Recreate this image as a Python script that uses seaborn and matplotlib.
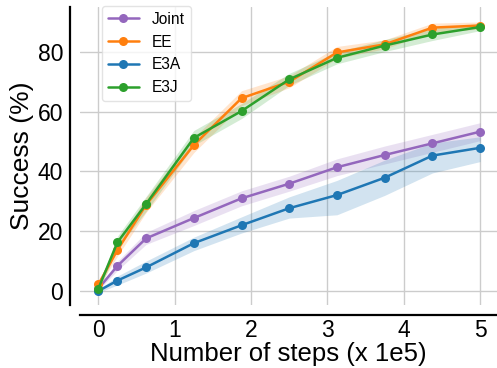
import matplotlib
matplotlib.use("Agg")
import matplotlib.pyplot as plt
import seaborn as sns
import pandas as pd

steps = [0, 0.25, 0.625, 1.25, 1.875, 2.5, 3.125, 3.75, 4.375, 5]
series_names = ["Joint", "EE", "E3A", "E3J"]

joint_mean = [0.8, 8.4, 17.6, 24.4, 31.0, 35.9, 41.4, 45.5, 49.4, 53.3]
joint_lo = [0.3, 6.9, 15.6, 21.9, 28.5, 33.4, 38.6, 42.5, 46.4, 50.3]
joint_hi = [1.3, 9.9, 19.6, 26.9, 33.5, 38.4, 44.2, 48.5, 52.4, 56.3]

ee_mean = [2.2, 13.7, 28.8, 48.8, 64.5, 70.0, 79.8, 82.5, 88.1, 88.8]
ee_lo = [1.2, 11.7, 26.3, 46.3, 62.0, 68.0, 77.8, 81.0, 86.6, 87.6]
ee_hi = [3.2, 15.7, 31.3, 51.3, 67.0, 72.0, 81.8, 84.0, 89.6, 90.0]

e3a_mean = [0.0, 3.5, 7.9, 16.0, 22.0, 27.7, 32.1, 37.9, 45.3, 47.9]
e3a_lo = [-0.5, 2.0, 6.0, 13.5, 19.4, 24.4, 25.5, 32.0, 39.5, 43.3]
e3a_hi = [0.5, 5.0, 10.0, 18.0, 24.8, 31.5, 37.0, 43.8, 49.5, 51.6]

e3j_mean = [0.8, 16.3, 29.1, 51.2, 60.2, 70.8, 78.0, 82.1, 85.8, 88.3]
e3j_lo = [-0.2, 14.3, 26.6, 48.7, 57.7, 68.8, 76.0, 80.1, 83.8, 87.1]
e3j_hi = [1.8, 18.3, 31.6, 53.7, 62.7, 72.8, 80.0, 84.1, 87.8, 89.5]

x_ticks = [0, 1, 2, 3, 4, 5]
y_ticks = [0, 20, 40, 60, 80]

colors = {"Joint": "#9467bd", "EE": "#ff7f0e", "E3A": "#1f77b4", "E3J": "#2ca02c"}

sns.set_theme(style="whitegrid")
plt.rcParams["font.family"] = ["Liberation Sans", "DejaVu Sans"]
plt.rcParams["text.color"] = "black"
plt.rcParams["axes.labelcolor"] = "black"
plt.rcParams["xtick.color"] = "black"
plt.rcParams["ytick.color"] = "black"

means = [joint_mean, ee_mean, e3a_mean, e3j_mean]
los = [joint_lo, ee_lo, e3a_lo, e3j_lo]
his = [joint_hi, ee_hi, e3a_hi, e3j_hi]

rows = []
for name, m in zip(series_names, means):
    for xv, yv in zip(steps, m):
        rows.append({"step": xv, "success": yv, "method": name})
df = pd.DataFrame(rows)

fig = plt.figure(figsize=(4.97, 3.68), dpi=100)
ax = fig.add_axes([0.161, 0.171, 0.839, 0.81])

for name, lo, hi in zip(series_names, los, his):
    ax.fill_between(steps, lo, hi, color=colors[name], alpha=0.2, linewidth=0)

sns.lineplot(data=df, x="step", y="success", hue="method", hue_order=series_names,
             palette=colors, marker="o", markersize=6.5, markeredgewidth=0,
             linewidth=1.8, errorbar=None, ax=ax, legend=False)

ax.set_xlim(-0.24, 5.22)
ax.set_ylim(-4.7, 95)
ax.set_xticks(x_ticks)
ax.set_yticks(y_ticks)
ax.tick_params(axis="x", labelsize=16.5, length=0, pad=3)
ax.tick_params(axis="y", labelsize=16.5, length=0, pad=5)
ax.set_xlabel("Number of steps (x 1e5)", fontsize=18.5, labelpad=0)
ax.set_ylabel("Success (%)", fontsize=19, labelpad=3)
ax.grid(True, color="#cccccc", linewidth=1.0)

sns.despine(ax=ax, offset=7)
for s in ["left", "bottom"]:
    ax.spines[s].set_color("black")
    ax.spines[s].set_linewidth(1.6)

handles = [plt.Line2D([], [], color=colors[n], marker="o", markersize=6.5,
                      markeredgewidth=0, linewidth=1.8) for n in series_names]
leg = ax.legend(handles, series_names, loc="upper left", bbox_to_anchor=(0.052, 1.005),
                borderaxespad=0, prop={"size": 11.2}, frameon=True)
leg.get_frame().set_edgecolor("#dddddd")

fig.savefig("out.png", dpi=100)
